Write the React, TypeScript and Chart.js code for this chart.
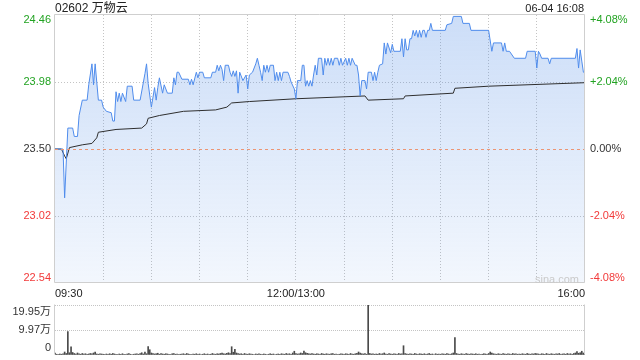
import React, { useEffect, useRef } from 'react';
import { Chart, registerables } from 'chart.js';

Chart.register(...registerables);

// ---------- data ----------
const stockTitle = '02602 万物云';
const stampText = '06-04 16:08';
const watermark = 'sina.com';
const prevClose = 23.5;
const totalMinutes = 330;
const gridStepMinutes = 30;

const priceTicks = [22.54, 23.02, 23.5, 23.98, 24.46];
const priceTickLabels = ['22.54', '23.02', '23.50', '23.98', '24.46'];
const pctTickLabels = ['-4.08%', '-2.04%', '0.00%', '+2.04%', '+4.08%'];
const tickColors = ['#f23a3a', '#f23a3a', '#333333', '#22a322', '#22a322'];

const timeLabelMinutes = [0, 150, 330];
const timeLabelTexts = ['09:30', '12:00/13:00', '16:00'];

const priceMinutes = [
  0, 5, 6, 8, 11, 12, 14, 15, 17, 20, 21, 23, 24, 25, 27, 29, 30, 32, 35, 36,
  37, 38, 39, 40, 41, 42, 44, 45, 48, 49, 53, 56, 57, 58, 60, 62, 63, 64, 65, 67,
  68, 70, 73, 74, 75, 76, 77, 79, 83, 84, 85, 86, 88, 89, 90, 92, 93, 97, 98, 100,
  101, 102, 103, 104, 105, 106, 108, 109, 110, 111, 112, 113, 114, 115, 117, 119, 120, 121, 123, 125,
  126, 127, 128, 129, 130, 131, 132, 133, 134, 136, 137, 138, 139, 140, 141, 142, 145, 146, 147, 149,
  150, 151, 153, 154, 155, 156, 157, 158, 159, 160, 161, 162, 163, 164, 166, 167, 168, 169, 170, 171,
  172, 173, 174, 176, 177, 178, 179, 181, 182, 183, 184, 185, 187, 188, 189, 190, 191, 193, 194, 195,
  197, 198, 199, 200, 201, 202, 204, 205, 206, 207, 209, 210, 211, 215, 216, 217, 218, 219, 220, 221,
  222, 223, 224, 225, 226, 227, 228, 229, 230, 231, 232, 233, 234, 235, 243, 244, 247, 248, 253, 254,
  258, 259, 270, 272, 273, 278, 279, 280, 281, 283, 286, 293, 294, 299, 300, 301, 302, 303, 307, 308,
  309, 324, 325, 326, 327, 328, 329, 330,
];
const priceValues = [
  23.5, 23.5, 23.15, 23.65, 23.65, 23.59, 23.59, 23.74, 23.85, 23.85, 23.96, 24.11, 23.96, 24.11, 23.85, 23.85, 23.8, 23.77, 23.76, 23.7,
  23.7, 23.91, 23.84, 23.9, 23.84, 23.9, 23.84, 23.95, 23.95, 23.85, 23.85, 24.04, 24.11, 23.97, 23.8, 23.94, 23.85, 23.94, 24.01, 23.9,
  23.96, 23.9, 23.9, 24.01, 23.96, 24.05, 24.05, 24.0, 24.0, 23.96, 24.0, 23.96, 24.05, 24.01, 24.05, 24.05, 24.01, 24.01, 24.05, 24.05,
  24.1, 24.06, 24.1, 24.07, 23.99, 24.1, 24.1, 24.05, 24.02, 24.06, 24.02, 24.06, 23.9, 24.05, 23.99, 24.03, 23.93, 24.03, 24.05, 24.11,
  24.15, 24.1, 24.05, 23.99, 24.1, 24.05, 24.1, 24.05, 24.1, 24.1, 23.99, 24.05, 23.99, 24.05, 23.99, 24.05, 24.05, 24.02, 23.98, 23.93,
  23.86, 23.99, 23.99, 24.1, 24.1, 23.95, 23.99, 23.95, 23.99, 23.95, 24.03, 24.1, 24.03, 24.15, 24.15, 24.03, 24.15, 24.1, 24.15, 24.1,
  24.15, 24.1, 24.15, 24.15, 24.1, 24.15, 24.1, 24.15, 24.1, 24.15, 24.1, 24.15, 24.1, 24.1, 24.03, 23.88, 23.99, 23.99, 23.93, 24.05,
  24.05, 23.99, 24.05, 23.99, 24.05, 24.1, 24.11, 24.26, 24.18, 24.26, 24.19, 24.25, 24.2, 24.2, 24.29, 24.16, 24.29, 24.21, 24.21, 24.29,
  24.29, 24.35, 24.31, 24.35, 24.3, 24.35, 24.3, 24.35, 24.35, 24.3, 24.35, 24.35, 24.4, 24.35, 24.35, 24.39, 24.4, 24.45, 24.45, 24.4,
  24.4, 24.35, 24.35, 24.2, 24.26, 24.26, 24.2, 24.26, 24.2, 24.2, 24.15, 24.15, 24.2, 24.2, 24.08, 24.2, 24.18, 24.15, 24.15, 24.11,
  24.15, 24.15, 24.22, 24.08, 24.21, 24.13, 24.05, 24.05,
];

const avgMinutes = [0, 4, 6, 7, 9, 17, 23, 26, 27, 38, 54, 57, 58, 65, 80, 100, 107, 110, 121, 150, 193, 195, 217, 218, 248, 249, 270, 330];
const avgValues = [23.5, 23.5, 23.45, 23.43, 23.51, 23.53, 23.54, 23.58, 23.62, 23.64, 23.65, 23.68, 23.72, 23.74, 23.77, 23.78, 23.8, 23.83, 23.84, 23.86, 23.88, 23.85, 23.86, 23.88, 23.9, 23.935, 23.95, 23.975];

const volumeTicks = [0, 9.97, 19.95];
const volumeTickLabels = ['0', '9.97万', '19.95万'];
// volume per minute (万股)
const volumes = [
  0.8, 0.3, 0.2, 0.4, 0.3, 0.5, 1.2, 0.6, 9.3, 0.9,
  3.3, 1.0, 0.6, 0.4, 0.8, 0.5, 0.3, 0.6, 0.4, 0.5,
  0.3, 0.4, 0.6, 0.5, 0.8, 1.2, 0.4, 0.3, 0.5, 0.4,
  0.3, 0.2, 0.4, 0.3, 0.5, 0.3, 0.6, 0.4, 0.3, 0.2,
  0.4, 0.3, 0.5, 0.3, 0.2, 0.4, 0.6, 0.3, 0.2, 0.3,
  0.4, 0.5, 0.3, 0.6, 0.9, 0.4, 1.2, 0.5, 3.4, 2.1,
  0.8, 0.6, 0.4, 0.5, 0.7, 0.3, 0.6, 0.4, 0.3, 0.5,
  0.4, 0.3, 0.2, 0.5, 0.6, 0.3, 0.4, 0.2, 0.3, 0.4,
  0.5, 0.3, 0.6, 0.4, 0.3, 0.2, 0.4, 0.3, 0.5, 0.3,
  0.4, 0.2, 0.3, 0.5, 0.3, 0.4, 0.2, 0.3, 0.6, 0.4,
  0.3, 0.5, 0.4, 0.6, 0.8, 0.5, 0.4, 0.7, 0.9, 0.6,
  3.3, 1.1, 2.3, 0.8, 0.6, 0.4, 0.5, 0.3, 0.6, 0.4,
  0.3, 0.5, 0.4, 0.3, 0.2, 0.4, 0.3, 0.5, 0.3, 0.2,
  0.4, 0.3, 0.2, 0.3, 0.5, 0.3, 0.4, 0.2, 0.3, 0.4,
  0.3, 0.5, 0.4, 0.3, 0.6, 0.4, 0.5, 0.3, 0.8, 1.5,
  0.6, 0.4, 0.5, 0.8, 0.6, 1.6, 0.9, 0.7, 0.5, 0.4,
  0.6, 0.4, 0.3, 0.5, 0.4, 0.3, 0.6, 0.4, 0.3, 0.5,
  0.4, 0.3, 0.5, 0.6, 0.3, 0.4, 0.2, 0.3, 0.5, 0.4,
  0.3, 0.5, 0.4, 0.3, 0.6, 0.4, 0.3, 0.5, 0.7, 1.2,
  0.8, 0.5, 0.4, 0.6, 0.3, 19.95, 0.6, 0.4, 0.5, 0.3,
  0.4, 0.3, 0.6, 0.4, 0.5, 0.8, 0.4, 0.3, 0.6, 0.4,
  0.3, 0.5, 0.4, 0.3, 0.6, 0.4, 0.5, 3.7, 0.6, 0.4,
  0.3, 0.5, 0.4, 0.3, 0.6, 0.4, 0.3, 0.5, 0.4, 0.3,
  0.5, 0.3, 0.4, 0.6, 0.3, 0.4, 0.2, 0.5, 0.3, 0.4,
  0.3, 0.5, 0.4, 0.3, 0.6, 0.4, 0.3, 0.5, 0.8, 7.0,
  0.6, 0.4, 0.3, 0.5, 0.4, 0.3, 0.6, 0.4, 0.3, 0.5,
  0.4, 0.3, 0.5, 0.3, 0.4, 0.2, 0.3, 0.5, 0.4, 0.3,
  0.6, 1.2, 0.8, 0.5, 0.4, 0.3, 0.5, 0.4, 0.3, 0.6,
  0.4, 0.3, 0.5, 0.4, 0.3, 0.6, 0.4, 0.5, 0.3, 0.4,
  0.3, 0.5, 0.4, 0.3, 0.6, 0.4, 0.3, 0.5, 0.4, 0.6,
  0.5, 0.4, 0.3, 0.5, 0.4, 0.3, 0.6, 0.4, 0.3, 0.5,
  0.4, 0.3, 0.5, 0.4, 0.6, 0.3, 0.4, 0.5, 0.3, 0.6,
  0.4, 0.5, 0.3, 0.6, 0.8, 1.4, 0.7, 0.9, 1.5, 0.8,
  1.0,
];

// ---------- styling ----------
const FONT = '"Liberation Sans", Arial, "Noto Sans CJK SC", sans-serif';
const GRID = '#c4c4c4';
const FRAME = '#cfcfcf';

const framePlugin = {
  id: 'frame',
  afterDraw(chart: any, _a: any, opts: any) {
    const { ctx, chartArea: a } = chart;
    ctx.save();
    ctx.strokeStyle = FRAME;
    ctx.lineWidth = 1;
    ctx.beginPath();
    const l = Math.round(a.left) - 0.5;
    const r = Math.round(a.right) - 0.5;
    const t = Math.round(a.top) - 0.5;
    const b = Math.round(a.bottom) - 0.5;
    ctx.moveTo(l, t); ctx.lineTo(l, b);
    ctx.moveTo(r, t); ctx.lineTo(r, b);
    if (opts.full) {
      ctx.moveTo(l, t); ctx.lineTo(r, t);
      ctx.moveTo(l, b); ctx.lineTo(r, b);
    }
    ctx.stroke();
    ctx.restore();
  },
};

// dashed previous-close reference line, placed through the y scale
const baselinePlugin = {
  id: 'baseline',
  afterDatasetsDraw(chart: any, _a: any, opts: any) {
    if (opts.value == null) return;
    const { ctx, chartArea: a } = chart;
    const py = Math.round(chart.scales.y.getPixelForValue(opts.value)) + 0.5;
    ctx.save();
    ctx.strokeStyle = '#ec9574';
    ctx.lineWidth = 1;
    ctx.setLineDash([3, 3]);
    ctx.beginPath();
    ctx.moveTo(a.left, py);
    ctx.lineTo(a.right, py);
    ctx.stroke();
    ctx.restore();
  },
};

const axisLabelPlugin = {
  id: 'axisLabels',
  afterDraw(chart: any, _a: any, opts: any) {
    const { ctx, chartArea: a } = chart;
    const scale = chart.scales.y;
    const n = opts.values.length;
    ctx.save();
    ctx.font = `11px ${FONT}`;
    ctx.textBaseline = 'middle';
    opts.values.forEach((v: number, i: number) => {
      let py = scale.getPixelForValue(v);
      if (i === 0) py -= opts.inset;
      else if (i === n - 1) py += opts.inset;
      if (opts.left) {
        ctx.textAlign = 'right';
        ctx.fillStyle = opts.colors ? opts.colors[i] : '#333';
        ctx.fillText(opts.left[i], a.left - 4, py);
      }
      if (opts.right) {
        ctx.textAlign = 'left';
        ctx.fillStyle = opts.colors ? opts.colors[i] : '#333';
        ctx.fillText(opts.right[i], a.right + 5, py);
      }
    });
    ctx.restore();
  },
};

export default function App() {
  const priceRef = useRef<HTMLCanvasElement>(null);
  const volRef = useRef<HTMLCanvasElement>(null);

  useEffect(() => {
    const gridMinutes: number[] = [];
    for (let m = 0; m <= totalMinutes; m += gridStepMinutes) gridMinutes.push(m);

    const priceData = priceMinutes.map((m, i) => ({ x: m, y: priceValues[i] }));
    const avgData = avgMinutes.map((m, i) => ({ x: m, y: avgValues[i] }));

    const priceChart = new Chart(priceRef.current as HTMLCanvasElement, {
      type: 'line',
      data: {
        datasets: [
          {
            data: priceData,
            borderColor: '#4f8cec',
            borderWidth: 1,
            pointRadius: 0,
            tension: 0,
            fill: 'start',
            backgroundColor: (ctx: any) => {
              const area = ctx.chart.chartArea;
              if (!area) return 'rgba(80,140,230,0.15)';
              const g = ctx.chart.ctx.createLinearGradient(0, area.top, 0, area.bottom);
              g.addColorStop(0, 'rgba(80,140,230,0.29)');
              g.addColorStop(1, 'rgba(80,140,230,0.07)');
              return g;
            },
          },
          {
            data: avgData,
            borderColor: '#2e2e2e',
            borderWidth: 1,
            pointRadius: 0,
            tension: 0,
            fill: false,
          },
        ],
      },
      options: {
        animation: false,
        responsive: false,
        maintainAspectRatio: false,
        devicePixelRatio: 1,
        layout: { padding: { top: 15, left: 0, right: 55, bottom: 0 } },
        plugins: {
          legend: { display: false },
          tooltip: { enabled: false },
          filler: { drawTime: 'beforeDatasetsDraw' },
          frame: { full: true },
          baseline: { value: prevClose },
          axisLabels: { values: priceTicks, left: priceTickLabels, right: pctTickLabels, colors: tickColors, inset: 5 },
        } as any,
        scales: {
          x: {
            type: 'linear',
            min: 0,
            max: totalMinutes,
            afterBuildTicks: (s: any) => { s.ticks = gridMinutes.map((v) => ({ value: v })); },
            afterFit: (s: any) => { s.height = 17; },
            grid: {
              drawTicks: false,
              color: (c: any) => (c.tick && (c.tick.value === 0 || c.tick.value === totalMinutes) ? 'rgba(0,0,0,0)' : GRID),
            },
            border: { display: false, dash: [1, 2] },
            ticks: {
              autoSkip: false,
              maxRotation: 0,
              align: 'inner',
              padding: 4,
              color: '#222',
              font: { family: FONT, size: 11 },
              callback: (v: any) => {
                const k = timeLabelMinutes.indexOf(Number(v));
                return k >= 0 ? timeLabelTexts[k] : '';
              },
            },
          },
          y: {
            min: priceTicks[0],
            max: priceTicks[priceTicks.length - 1],
            afterBuildTicks: (s: any) => { s.ticks = priceTicks.map((v) => ({ value: v })); },
            afterFit: (s: any) => { s.width = 55; },
            grid: {
              drawTicks: false,
              color: (c: any) => {
                const v = c.tick ? c.tick.value : null;
                if (v === priceTicks[0] || v === priceTicks[priceTicks.length - 1] || v === prevClose) return 'rgba(0,0,0,0)';
                return GRID;
              },
            },
            border: { display: false, dash: [1, 2] },
            ticks: { display: false },
          },
        },
      } as any,
      plugins: [framePlugin, baselinePlugin, axisLabelPlugin],
    });

    const volData = volumes.map((v, i) => ({ x: i, y: v }));
    const volChart = new Chart(volRef.current as HTMLCanvasElement, {
      type: 'bar',
      data: {
        datasets: [
          {
            data: volData,
            backgroundColor: '#4a4a4a',
            borderWidth: 0,
            barThickness: 1,
          },
        ],
      },
      options: {
        animation: false,
        responsive: false,
        maintainAspectRatio: false,
        devicePixelRatio: 1,
        layout: { padding: { top: 5, left: 0, right: 55, bottom: 5 } },
        plugins: {
          legend: { display: false },
          tooltip: { enabled: false },
          frame: { full: false },
          baseline: { value: null },
          axisLabels: { values: volumeTicks, left: volumeTickLabels, inset: 7 },
        } as any,
        scales: {
          x: {
            type: 'linear',
            min: 0,
            max: totalMinutes,
            offset: false,
            display: false,
          },
          y: {
            min: volumeTicks[0],
            max: volumeTicks[volumeTicks.length - 1],
            afterBuildTicks: (s: any) => { s.ticks = volumeTicks.map((v) => ({ value: v })); },
            afterFit: (s: any) => { s.width = 55; },
            grid: {
              drawTicks: false,
              color: (c: any) => (c.tick && c.tick.value === 0 ? 'rgba(0,0,0,0)' : GRID),
            },
            border: { display: false, dash: [1, 1] },
            ticks: { display: false },
          },
        },
      } as any,
      plugins: [framePlugin, baselinePlugin, axisLabelPlugin],
    });

    return () => {
      priceChart.destroy();
      volChart.destroy();
    };
  }, []);

  return (
    <div style={{ position: 'absolute', left: 0, top: 0, width: 640, height: 360, background: '#fff', fontFamily: FONT, overflow: 'hidden' }}>
      <canvas ref={priceRef} width={640} height={300} style={{ position: 'absolute', left: 0, top: 0, width: 640, height: 300, display: 'block' }} />
      <canvas ref={volRef} width={640} height={60} style={{ position: 'absolute', left: 0, top: 300, width: 640, height: 60, display: 'block' }} />
      <div style={{ position: 'absolute', left: 55, top: 1, fontSize: 12, lineHeight: '14px', color: '#222', whiteSpace: 'nowrap' }}>{stockTitle}</div>
      <div style={{ position: 'absolute', right: 56, top: 1, fontSize: 11, lineHeight: '14px', color: '#222', whiteSpace: 'nowrap' }}>{stampText}</div>
      <div style={{ position: 'absolute', left: 535, top: 272, fontSize: 11, lineHeight: '14px', color: '#cacaca', whiteSpace: 'nowrap' }}>{watermark}</div>
    </div>
  );
}
